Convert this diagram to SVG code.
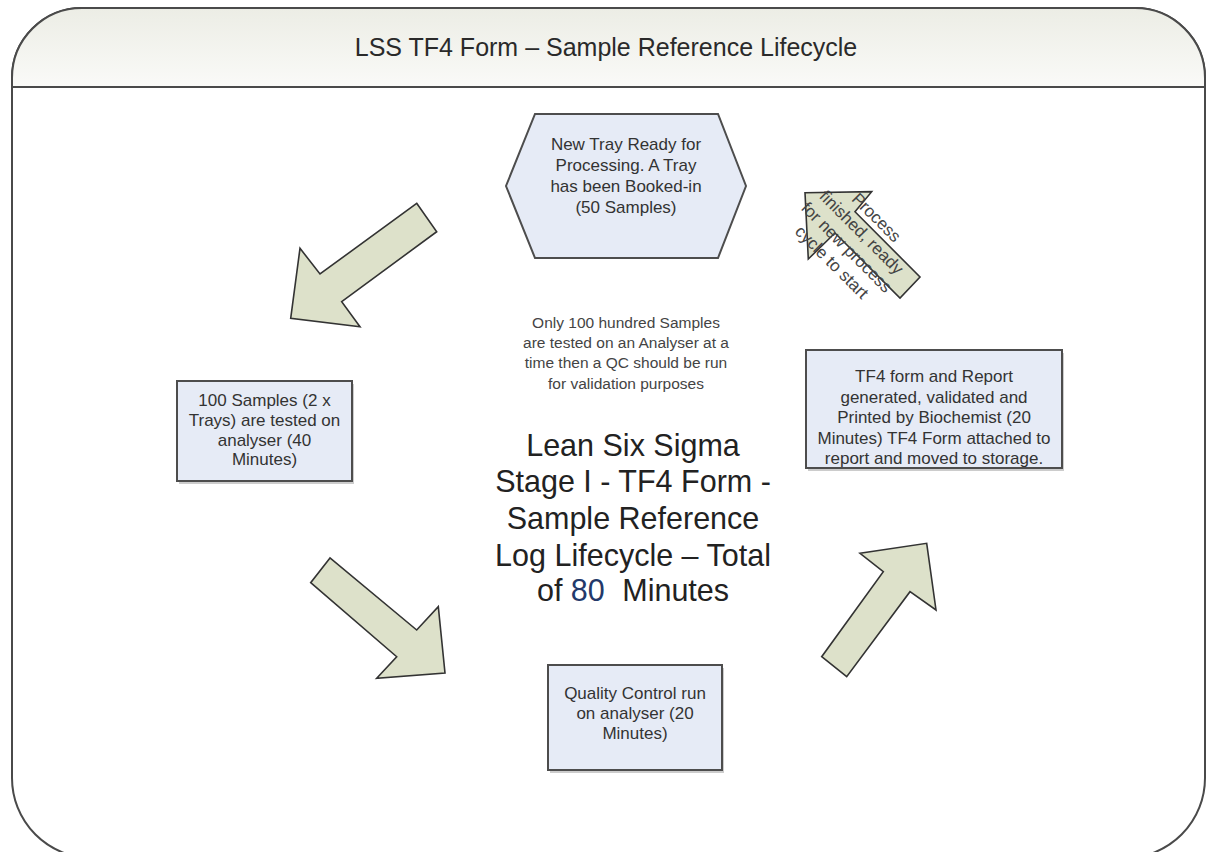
<svg xmlns="http://www.w3.org/2000/svg" width="1207" height="852" viewBox="0 0 1207 852">
  <defs>
    <linearGradient id="hdrGrad" x1="0" y1="0" x2="0" y2="1">
      <stop offset="0" stop-color="#ecede5"/>
      <stop offset="1" stop-color="#fafaf8"/>
    </linearGradient>
  </defs>
  <style>
    .frame { fill: #ffffff; stroke: #4a4a4a; stroke-width: 2; }
    .hdr { fill: url(#hdrGrad); stroke: #4a4a4a; stroke-width: 2; }
    .node { fill: #e6ebf6; stroke: #4d4d4d; stroke-width: 2; }
    .shadow { fill: #9a9a9a; opacity: 0.5; }
    .arrow { fill: #dde1ca; stroke: #333333; stroke-width: 1.6; stroke-linejoin: miter; }
    .t { font-family: "Liberation Sans", Arial, sans-serif; fill: #333333; text-anchor: middle; }
    .n { font-size: 17px; }
    .title { font-size: 25px; fill: #2a2a2a; }
    .note { font-size: 15.5px; fill: #444444; }
    .big { font-size: 30.5px; fill: #222222; }
    .lbl { font-size: 17px; fill: #444444; }
  </style>

  <!-- outer frame with header band -->
  <g id="frame">
    <path class="frame" d="M12,78 A70,70 0 0 1 82,8 H1135 A70,70 0 0 1 1205,78 V778 A80,80 0 0 1 1125,858 H92 A80,80 0 0 1 12,778 Z"/>
    <path class="hdr" d="M12,87 V78 A70,70 0 0 1 82,8 H1135 A70,70 0 0 1 1205,78 V87 Z"/>
    <text class="t title" x="606" y="56">LSS TF4 Form – Sample Reference Lifecycle</text>
  </g>

  <!-- flow arrows between stages -->
  <g id="connectors">
    <g id="arrow-to-analyser">
      <polygon class="arrow" points="416.7,203.3 436.7,231.7 341.7,301.7 360,326.7 290.7,318.3 300,248.3 320,274"/>
    </g>
    <g id="arrow-to-qc">
      <polygon class="arrow" points="330,558 310.7,582.7 396.7,656.7 376.7,678.3 445,673 438.3,606.7 416.7,630"/>
    </g>
    <g id="arrow-to-report">
      <polygon class="arrow" points="821.7,656.7 846.7,676.7 910,591.7 936,610 926.7,543.3 860,553.3 883.3,571.7"/>
    </g>
    <g id="arrow-restart">
      <polygon class="arrow" points="805,192.7 871.7,191.7 855,211.7 920,277 900,298 835,233 808.3,259"/>
      <g transform="translate(854,240) rotate(45)">
        <text class="t lbl" x="0" y="-26">Process</text>
        <text class="t lbl" x="0" y="-5">finished, ready</text>
        <text class="t lbl" x="0" y="16">for new process</text>
        <text class="t lbl" x="0" y="37">cycle to start</text>
      </g>
    </g>
  </g>

  <!-- stage: tray booked in -->
  <g id="node-new-tray">
    <polygon class="node" points="535,114 718,114 746,186 718,258 535,258 506,186"/>
    <text class="t n" x="626" y="150">New Tray Ready for</text>
    <text class="t n" x="626" y="171">Processing. A Tray</text>
    <text class="t n" x="626" y="192">has been Booked-in</text>
    <text class="t n" x="626" y="213">(50 Samples)</text>
  </g>

  <!-- stage: samples tested -->
  <g id="node-analyser">
    <rect class="shadow" x="179" y="384" width="175" height="100"/>
    <rect class="node" x="177" y="381" width="175" height="100"/>
    <text class="t n" x="264.5" y="406">100 Samples (2 x</text>
    <text class="t n" x="264.5" y="426">Trays) are tested on</text>
    <text class="t n" x="264.5" y="445.5">analyser (40</text>
    <text class="t n" x="264.5" y="465">Minutes)</text>
  </g>

  <!-- stage: quality control -->
  <g id="node-qc">
    <rect class="shadow" x="550" y="668" width="174" height="105"/>
    <rect class="node" x="548" y="665" width="174" height="105"/>
    <text class="t n" x="635" y="699">Quality Control run</text>
    <text class="t n" x="635" y="719">on analyser (20</text>
    <text class="t n" x="635" y="739">Minutes)</text>
  </g>

  <!-- stage: report generated -->
  <g id="node-report">
    <rect class="shadow" x="808" y="353" width="256" height="118"/>
    <rect class="node" x="806" y="350" width="256" height="118"/>
    <text class="t n" x="934" y="382">TF4 form and Report</text>
    <text class="t n" x="934" y="402.5">generated, validated and</text>
    <text class="t n" x="934" y="423">Printed by Biochemist (20</text>
    <text class="t n" x="934" y="443.5">Minutes) TF4 Form attached to</text>
    <text class="t n" x="934" y="464">report and moved to storage.</text>
  </g>

  <!-- central notes -->
  <g id="note-capacity">
    <text class="t note" x="626" y="327.5">Only 100 hundred Samples</text>
    <text class="t note" x="626" y="347.5">are tested on an Analyser at a</text>
    <text class="t note" x="626" y="367.5">time then a QC should be run</text>
    <text class="t note" x="626" y="388.5">for validation purposes</text>
  </g>
  <g id="note-summary">
    <text class="t big" x="633" y="456">Lean Six Sigma</text>
    <text class="t big" x="633" y="492">Stage I - TF4 Form -</text>
    <text class="t big" x="633" y="529">Sample Reference</text>
    <text class="t big" x="633" y="566">Log Lifecycle – Total</text>
    <text class="t big" x="633" y="601">of <tspan fill="#23396a">80</tspan><tspan dx="9"> Minutes</tspan></text>
  </g>
</svg>
